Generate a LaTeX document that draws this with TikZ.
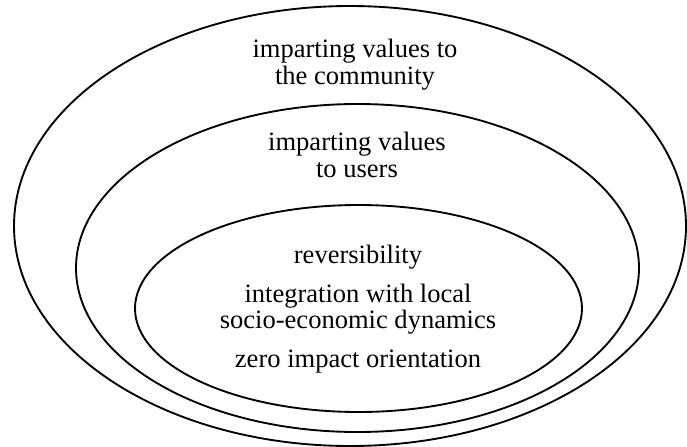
\documentclass[tikz,border=0pt]{standalone}
\usepackage{fontspec}
\setmainfont{Liberation Serif}
\begin{document}
\begin{tikzpicture}[x=0.75pt,y=-0.75pt,
  ring/.style={draw=black,line width=1.4pt},
  label/.style={anchor=base,inner sep=0pt,font=\fontsize{19.9}{20.3}\selectfont}]
\useasboundingbox (0,0) rectangle (687,447);
% three nested rings
\draw[ring] (350,226) ellipse [x radius=336, y radius=220];
\draw[ring] (357.5,268) ellipse [x radius=281.5, y radius=164];
\draw[ring] (358.5,308.5) ellipse [x radius=223.5, y radius=103.5];
% outer ring
\node[label] (comA) at (355,57) {imparting values to};
\node[label] (comB) at (355,84) {the community};
% middle ring
\node[label] (usrA) at (357,150) {imparting values};
\node[label] (usrB) at (357,177) {to users};
% inner ring
\node[label] (rev)  at (358,263) {reversibility};
\node[label] (intA) at (358,302) {integration with local};
\node[label] (intB) at (358,328) {socio-economic dynamics};
\node[label] (zero) at (358,367) {zero impact orientation};
\end{tikzpicture}
\end{document}
